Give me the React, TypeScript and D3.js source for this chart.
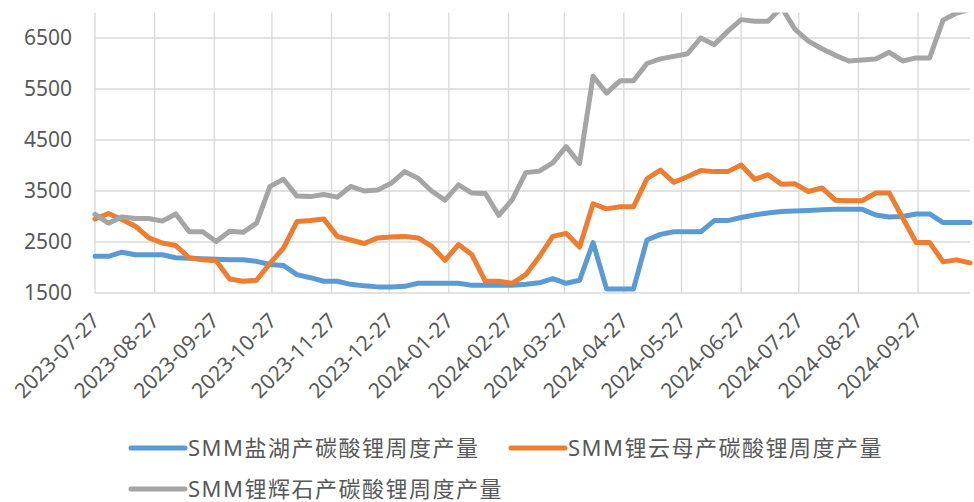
import React, { useEffect, useRef } from 'react';
import * as d3 from 'd3';

// weekly (Thursday) releases, 2023-07-27 .. 2024-10-24
const startDate = '2023-07-27';
const endDate = '2024-10-24';

const tickLabels = [
  '2023-07-27', '2023-08-27', '2023-09-27', '2023-10-27', '2023-11-27',
  '2023-12-27', '2024-01-27', '2024-02-27', '2024-03-27', '2024-04-27',
  '2024-05-27', '2024-06-27', '2024-07-27', '2024-08-27', '2024-09-27',
];

const yTicks = [1500, 2500, 3500, 4500, 5500, 6500];

const saltLake = [
  2220, 2220, 2300, 2250, 2250, 2250, 2190, 2180, 2170, 2160,
  2150, 2150, 2120, 2060, 2040, 1860, 1800, 1730, 1730, 1670,
  1640, 1620, 1620, 1630, 1690, 1690, 1690, 1690, 1650, 1650,
  1650, 1650, 1670, 1700, 1780, 1690, 1750, 2490, 1580, 1580,
  1580, 2540, 2650, 2700, 2700, 2700, 2920, 2920, 2980, 3030,
  3070, 3100, 3110, 3120, 3130, 3140, 3140, 3140, 3030, 2990,
  3000, 3050, 3050, 2880, 2880, 2880,
];

const lepidolite = [
  2950, 3060, 2940, 2810, 2580, 2480, 2430, 2190, 2150, 2130,
  1775, 1730, 1750, 2080, 2380, 2900, 2920, 2950, 2610, 2540,
  2470, 2580, 2600, 2610, 2580, 2420, 2140, 2450, 2250, 1730,
  1730, 1690, 1860, 2210, 2610, 2670, 2400, 3250, 3150, 3190,
  3190, 3740, 3910, 3670, 3780, 3900, 3880, 3880, 4010, 3730,
  3820, 3630, 3640, 3490, 3560, 3320, 3310, 3310, 3460, 3460,
  2970, 2490, 2490, 2110, 2150, 2090,
];

const spodumene = [
  3040, 2870, 2990, 2960, 2960, 2910, 3050, 2700, 2700, 2510,
  2710, 2690, 2870, 3590, 3730, 3400, 3390, 3430, 3380, 3590,
  3500, 3520, 3650, 3880, 3750, 3500, 3320, 3620, 3460, 3450,
  3020, 3330, 3860, 3890, 4050, 4370, 4040, 5750, 5420, 5660,
  5660, 6000, 6090, 6140, 6190, 6500, 6370, 6630, 6860, 6830,
  6830, 7100, 6670, 6440, 6290, 6160, 6050, 6070, 6090, 6220,
  6050, 6110, 6110, 6850, 6990, 7060,
];

const seriesNames = ['SMM盐湖产碳酸锂周度产量', 'SMM锂云母产碳酸锂周度产量', 'SMM锂辉石产碳酸锂周度产量'];
const seriesColors = ['#5B9BD5', '#ED7D31', '#A5A5A5'];

const App: React.FC = () => {
  const svgRef = useRef<SVGSVGElement | null>(null);

  useEffect(() => {
    const width = 974;
    const height = 502;
    const margin = { top: 12.5, right: 4, bottom: 209, left: 95 };

    const svg = d3.select(svgRef.current).attr('width', width).attr('height', height);
    svg.selectAll('*').remove();

    const parse = d3.utcParse('%Y-%m-%d');
    const dates = d3.utcDay.range(parse(startDate)!, d3.utcDay.offset(parse(endDate)!, 1), 7);

    const x = d3.scaleUtc()
      .domain([parse(startDate)!, parse(endDate)!])
      .range([margin.left, width - margin.right]);
    const y = d3.scaleLinear()
      .domain([1500, 7000])
      .range([height - margin.bottom, margin.top]);

    const font = '"Noto Sans", "Noto Sans CJK SC", sans-serif';
    const textColor = '#595959';
    const gridColor = '#D9D9D9';

    // horizontal gridlines
    svg.append('g')
      .selectAll('line')
      .data(yTicks)
      .enter()
      .append('line')
      .attr('x1', margin.left)
      .attr('x2', width - margin.right)
      .attr('y1', (d) => y(d))
      .attr('y2', (d) => y(d))
      .attr('stroke', gridColor)
      .attr('stroke-width', 1.3);

    // vertical gridlines at monthly ticks
    const tickDates = tickLabels.map((t) => parse(t)!);
    svg.append('g')
      .selectAll('line')
      .data(tickDates)
      .enter()
      .append('line')
      .attr('x1', (d) => x(d))
      .attr('x2', (d) => x(d))
      .attr('y1', margin.top)
      .attr('y2', y(1500))
      .attr('stroke', gridColor)
      .attr('stroke-width', 1.3);

    // y labels
    svg.append('g')
      .selectAll('text')
      .data(yTicks)
      .enter()
      .append('text')
      .attr('x', 72)
      .attr('y', (d) => y(d))
      .attr('dy', '0.35em')
      .attr('text-anchor', 'end')
      .attr('font-family', font)
      .attr('font-size', 21)
      .attr('fill', textColor)
      .text((d) => String(d));

    // x labels, rotated
    svg.append('g')
      .selectAll('text')
      .data(tickLabels)
      .enter()
      .append('text')
      .attr('transform', (d) => `translate(${x(parse(d)!) + 6}, ${y(1500) + 29}) rotate(-45)`)
      .attr('text-anchor', 'end')
      .attr('font-family', font)
      .attr('font-size', 21)
      .attr('fill', textColor)
      .text((d) => d);

    // clip to plot area
    svg.append('defs')
      .append('clipPath')
      .attr('id', 'plot-clip')
      .append('rect')
      .attr('x', margin.left - 5)
      .attr('y', margin.top)
      .attr('width', width - margin.right - margin.left + 10)
      .attr('height', y(1500) - margin.top + 10);

    const line = d3.line<number>()
      .x((_, i) => x(dates[i]))
      .y((d) => y(d));

    const allSeries = [saltLake, lepidolite, spodumene];
    const plot = svg.append('g').attr('clip-path', 'url(#plot-clip)');
    allSeries.forEach((s, i) => {
      plot.append('path')
        .datum(s)
        .attr('fill', 'none')
        .attr('stroke', seriesColors[i])
        .attr('stroke-width', 5)
        .attr('stroke-linejoin', 'round')
        .attr('stroke-linecap', 'round')
        .attr('d', line);
    });

    // legend
    const legendPos = [
      { x: 131, y: 448 },
      { x: 511, y: 448 },
      { x: 131, y: 489 },
    ];
    seriesNames.forEach((name, i) => {
      const g = svg.append('g').attr('transform', `translate(${legendPos[i].x}, ${legendPos[i].y})`);
      g.append('line')
        .attr('x1', 0)
        .attr('x2', 54)
        .attr('stroke', seriesColors[i])
        .attr('stroke-width', 5)
        .attr('stroke-linecap', 'round');
      g.append('text')
        .attr('x', 57)
        .attr('dy', '0.35em')
        .attr('font-family', font)
        .attr('font-size', 22)
        .attr('letter-spacing', 1.5)
        .attr('fill', textColor)
        .text(name);
    });
  }, []);

  return <svg ref={svgRef} style={{ position: 'absolute', left: 0, top: 0, display: 'block' }}></svg>;
};

export default App;
